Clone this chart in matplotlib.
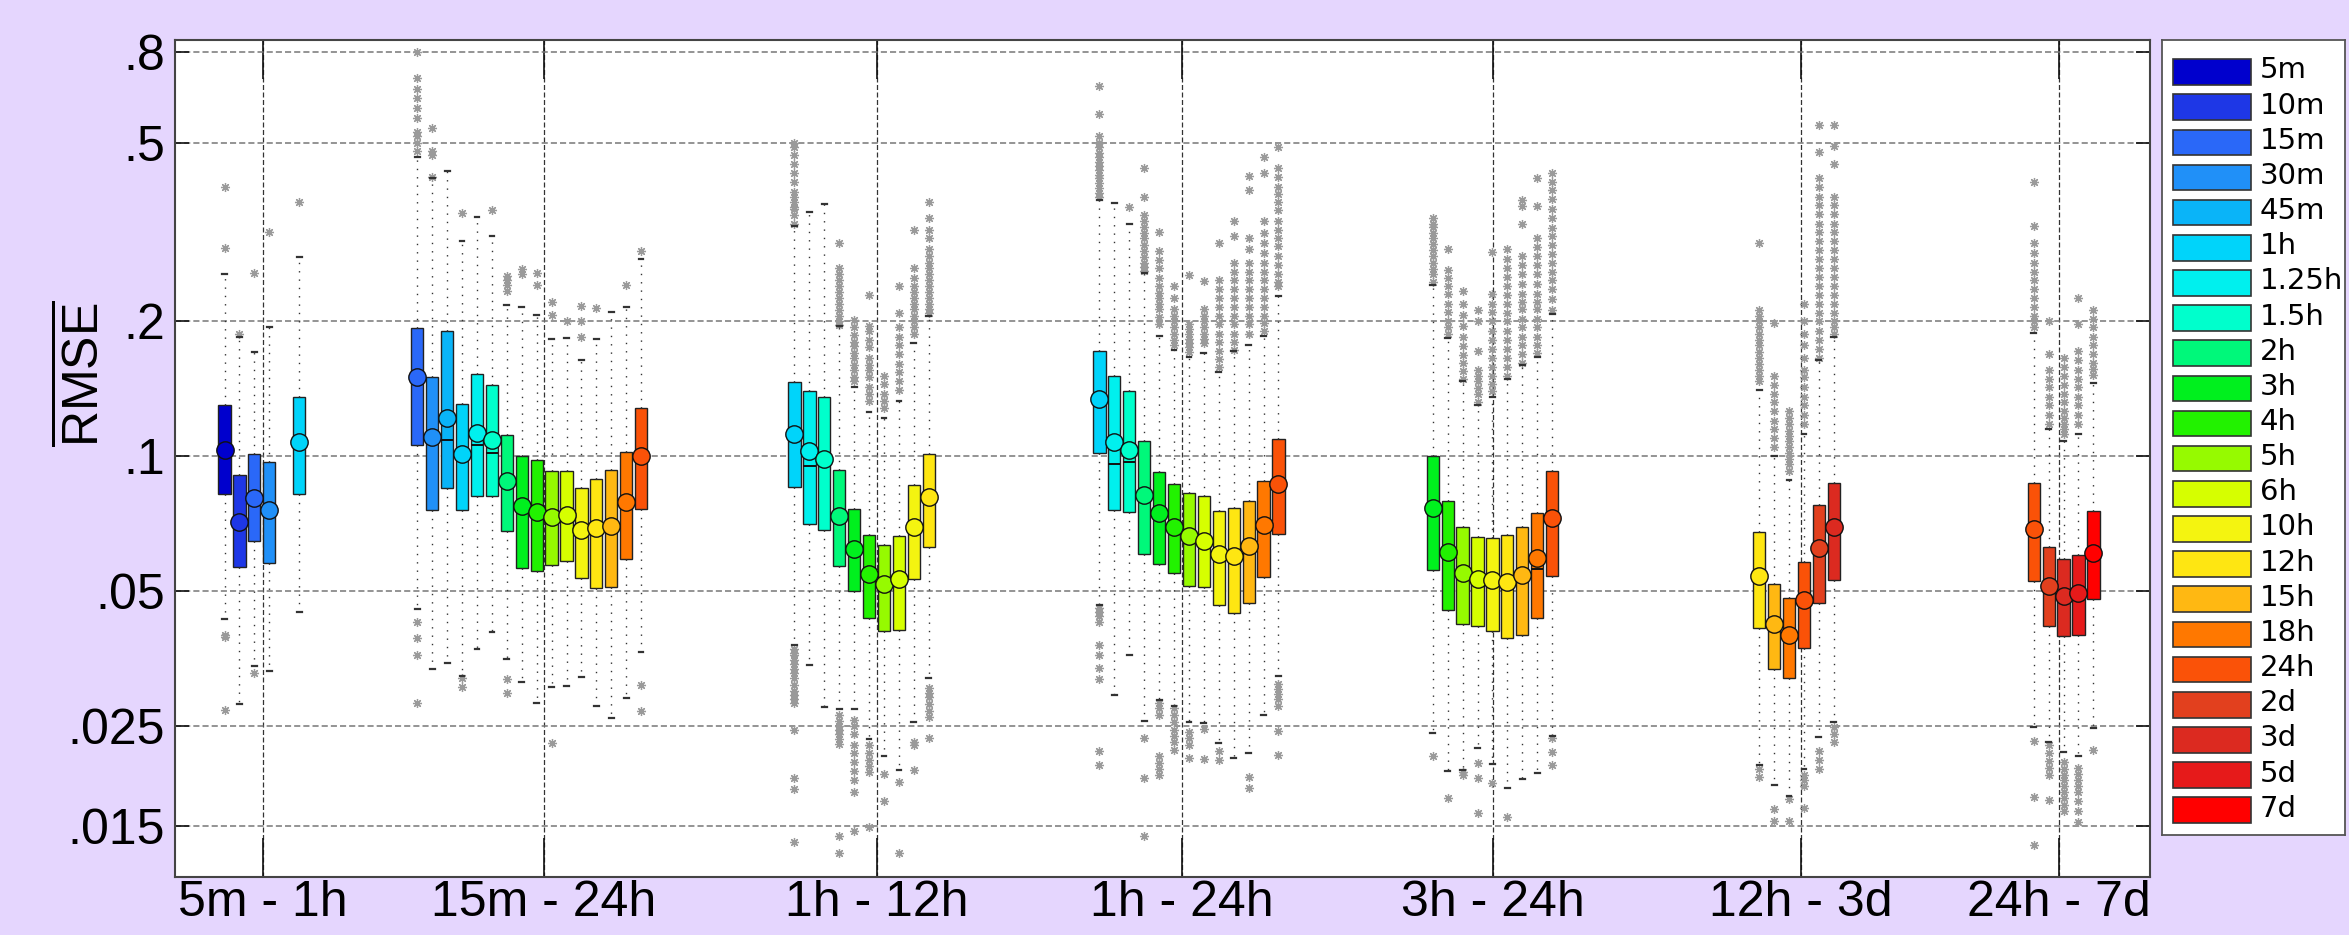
import matplotlib
matplotlib.use('Agg')
import matplotlib.pyplot as plt
from matplotlib.patches import Rectangle
from matplotlib.ticker import FixedLocator, FixedFormatter, NullLocator

# ---------------- data ----------------
HORIZONS = ['5m', '10m', '15m', '30m', '45m', '1h', '1.25h', '1.5h', '2h', '3h', '4h',
            '5h', '6h', '10h', '12h', '15h', '18h', '24h', '2d', '3d', '5d', '7d']
COLORS = ['#0000cd', '#1e37e6', '#2a68f8', '#2090f8', '#0ab4f8', '#00d4fa', '#00f0ee',
          '#00ffcc', '#00f87a', '#00f01e', '#22f200', '#96fa00', '#d6ff00', '#f4f410',
          '#fee612', '#ffb812', '#ff7800', '#fa5208', '#e2401e', '#dc2a20', '#e61a1a', '#ff0000']

GROUP_LABELS = ['5m - 1h', '15m - 24h', '1h - 12h', '1h - 24h', '3h - 24h', '12h - 3d', '24h - 7d']
GROUP_FIRST = ['5m', '15m', '1h', '1h', '3h', '12h', '24h']
GROUP_LAST = ['1h', '24h', '12h', '24h', '24h', '3d', '7d']

YTICKS = [0.8, 0.5, 0.2, 0.1, 0.05, 0.025, 0.015]
YTICK_LABELS = ['.8', '.5', '.2', '.1', '.05', '.025', '.015']

BOX_Q3 = [
    [0.1305, 0.091, 0.101, 0.097, None, 0.136],
    [0.193, 0.150, 0.190, 0.131, 0.153, 0.1443, 0.1116, 0.100, 0.098, 0.093, 0.093, 0.0848, 0.089, 0.0932, 0.1025, 0.128],
    [0.1466, 0.140, 0.136, 0.0932, 0.0764, 0.0667, 0.0634, 0.0665, 0.0863, 0.1012],
    [0.172, 0.151, 0.140, 0.108, 0.0924, 0.0868, 0.0827, 0.0814, 0.0754, 0.0766, 0.0797, 0.0882, 0.1096],
    [0.100, 0.0797, 0.0697, 0.0661, 0.0658, 0.0667, 0.0695, 0.0746, 0.0927],
    [0.0678, 0.052, 0.0483, 0.0581, 0.0779, 0.0874],
    [0.0874, 0.0628, 0.059, 0.0602, 0.0754],
]
BOX_Q1 = [
    [0.0824, 0.0566, 0.0646, 0.0578, None, 0.0824],
    [0.106, 0.0758, 0.0848, 0.0758, 0.0814, 0.0814, 0.068, 0.0564, 0.0555, 0.0573, 0.0583, 0.0535, 0.0508, 0.0511, 0.059, 0.0764],
    [0.0853, 0.0707, 0.0686, 0.0568, 0.0502, 0.0436, 0.0408, 0.041, 0.0532, 0.0628],
    [0.1018, 0.0761, 0.075, 0.0606, 0.0576, 0.0549, 0.0514, 0.0511, 0.0467, 0.0448, 0.0471, 0.0539, 0.0672],
    [0.0557, 0.0455, 0.0423, 0.0419, 0.0407, 0.0393, 0.040, 0.0435, 0.0541],
    [0.0415, 0.0335, 0.0321, 0.0374, 0.0472, 0.053],
    [0.0527, 0.0419, 0.0397, 0.040, 0.0481],
]
MEAN = [
    [0.1034, 0.0714, 0.0807, 0.0761, None, 0.1076],
    [0.150, 0.1106, 0.1217, 0.1012, 0.1127, 0.109, 0.0882, 0.0776, 0.075, 0.0734, 0.0741, 0.0684, 0.0693, 0.0701, 0.079, 0.100],
    [0.112, 0.1028, 0.0985, 0.0738, 0.0622, 0.0546, 0.0518, 0.0533, 0.0697, 0.0812],
    [0.134, 0.1076, 0.1034, 0.082, 0.0746, 0.0695, 0.0663, 0.0649, 0.0607, 0.060, 0.063, 0.0703, 0.0869],
    [0.0767, 0.0613, 0.0549, 0.0532, 0.0529, 0.0524, 0.0544, 0.0592, 0.073],
    [0.0541, 0.0423, 0.0399, 0.0477, 0.0626, 0.0697],
    [0.0688, 0.0515, 0.0489, 0.0496, 0.0609],
]
MEDIAN = [
    [0.103, 0.071, 0.080, 0.076, None, 0.107],
    [0.150, 0.110, 0.109, 0.101, 0.106, 0.102, 0.088, 0.077, 0.075, 0.073, 0.074, 0.068, 0.069, 0.070, 0.079, 0.100],
    [0.112, 0.095, 0.098, 0.074, 0.062, 0.054, 0.052, 0.053, 0.070, 0.081],
    [0.134, 0.096, 0.097, 0.082, 0.075, 0.069, 0.066, 0.065, 0.061, 0.060, 0.063, 0.070, 0.087],
    [0.077, 0.061, 0.055, 0.053, 0.053, 0.052, 0.054, 0.056, 0.073],
    [0.054, 0.042, 0.040, 0.048, 0.063, 0.070],
    [0.069, 0.0515, 0.049, 0.0496, 0.061],
]
WHISK_HI = [
    [0.255, 0.185, 0.171, 0.194, None, 0.279],
    [0.465, 0.417, 0.433, 0.303, 0.342, 0.31, 0.218, 0.216, 0.207, 0.183, 0.184, 0.164, 0.183, 0.21, 0.216, 0.276],
    [0.326, 0.351, 0.365, 0.195, 0.1427, 0.1254, 0.1216, 0.1329, 0.179, 0.206],
    [0.374, 0.367, 0.33, 0.256, 0.186, 0.173, 0.167, 0.17, 0.154, 0.172, 0.177, 0.186, 0.228],
    [0.241, 0.184, 0.147, 0.1305, 0.136, 0.1485, 0.160, 0.167, 0.208],
    [0.141, 0.1003, 0.0888, 0.112, 0.164, 0.185],
    [0.189, 0.115, 0.108, 0.112, 0.146],
]
WHISK_LO = [
    [0.0433, 0.028, 0.0341, 0.0332, None, 0.045],
    [0.0457, 0.0335, 0.0346, 0.0323, 0.0371, 0.0405, 0.0354, 0.0313, 0.0282, 0.0306, 0.0307, 0.0322, 0.0277, 0.0261, 0.0289, 0.0366],
    [0.0379, 0.0343, 0.0276, 0.0273, 0.0273, 0.0234, 0.0215, 0.0200, 0.0256, 0.0320],
    [0.0467, 0.0294, 0.036, 0.0257, 0.0286, 0.0278, 0.0255, 0.0254, 0.0229, 0.0212, 0.0218, 0.0265, 0.0323],
    [0.0241, 0.0199, 0.0200, 0.0224, 0.0206, 0.0182, 0.0191, 0.0197, 0.0238],
    [0.0205, 0.0185, 0.0175, 0.0201, 0.0236, 0.0255],
    [0.0249, 0.0231, 0.0219, 0.0215, 0.0248],
]
FLIERS_HIGH = [
    [[0.40, 0.292], [0.188], [0.256], [0.317], [], [0.37]],
    [[0.80, 0.70, 0.66, 0.63, 0.60, 0.57, 0.53, 0.52, 0.50, 0.48], [0.54, 0.48, 0.47, 0.42], [], [0.35], [],
     [0.355], [0.253, 0.248, 0.241, 0.234], [0.262, 0.255], [0.257, 0.241], [0.221, 0.207], [0.2],
     [0.217, 0.2, 0.185], [0.214], [], [0.241], [0.287]],
    [[0.5, 0.49, 0.47, 0.45, 0.43, 0.41, 0.39, 0.38, 0.37, 0.36, 0.357, 0.345, 0.33], [], [],
     [0.3, 0.263, 0.255, 0.247, 0.24, 0.233, 0.226, 0.219, 0.212, 0.206, 0.2, 0.196],
     [0.202, 0.194, 0.187, 0.18, 0.176, 0.17, 0.166, 0.16, 0.156, 0.15, 0.147],
     [0.229, 0.195, 0.19, 0.182, 0.175, 0.166, 0.16, 0.156, 0.15, 0.1427, 0.138, 0.133],
     [0.1515, 0.1448, 0.138, 0.133, 0.128],
     [0.24, 0.209, 0.194, 0.185, 0.177, 0.169, 0.161, 0.154, 0.147, 0.1405],
     [0.32, 0.263, 0.25, 0.24, 0.233, 0.226, 0.219, 0.213, 0.206, 0.2, 0.194, 0.188],
     [0.37, 0.34, 0.32, 0.307, 0.29, 0.28, 0.27, 0.263, 0.255, 0.247, 0.24, 0.233, 0.226, 0.219, 0.213, 0.209]],
    [[0.67, 0.58, 0.52, 0.5, 0.49, 0.476, 0.465, 0.455, 0.445, 0.435, 0.425, 0.417, 0.407, 0.397, 0.388, 0.38],
     [], [0.36],
     [0.44, 0.38, 0.345, 0.335, 0.325, 0.315, 0.307, 0.297, 0.288, 0.279, 0.27, 0.264, 0.259],
     [0.316, 0.288, 0.275, 0.263, 0.25, 0.24, 0.232, 0.226, 0.219, 0.213, 0.205, 0.197],
     [0.24, 0.226, 0.213, 0.206, 0.2, 0.194, 0.188, 0.182, 0.177],
     [0.254, 0.197, 0.192, 0.188, 0.183, 0.179, 0.175, 0.171],
     [0.246, 0.213, 0.206, 0.2, 0.194, 0.188, 0.183, 0.179],
     [0.30, 0.247, 0.236, 0.226, 0.216, 0.206, 0.197, 0.188, 0.18, 0.172, 0.165, 0.158],
     [0.336, 0.31, 0.27, 0.258, 0.247, 0.236, 0.226, 0.216, 0.206, 0.197, 0.188, 0.18, 0.173],
     [0.423, 0.393, 0.307, 0.29, 0.27, 0.258, 0.247, 0.236, 0.226, 0.216, 0.206, 0.197, 0.188],
     [0.465, 0.43, 0.336, 0.315, 0.3, 0.285, 0.27, 0.258, 0.247, 0.236, 0.226, 0.216, 0.206, 0.198, 0.19],
     [0.49, 0.44, 0.42, 0.40, 0.385, 0.37, 0.355, 0.336, 0.32, 0.307, 0.295, 0.28, 0.268, 0.255, 0.245, 0.24]],
    [[0.34, 0.33, 0.325, 0.315, 0.307, 0.298, 0.289, 0.28, 0.27, 0.262, 0.255, 0.245],
     [0.29, 0.26, 0.25, 0.24, 0.23, 0.219, 0.21, 0.2, 0.194, 0.188],
     [0.234, 0.219, 0.207, 0.195, 0.185, 0.176, 0.168, 0.162, 0.155, 0.149],
     [0.2125, 0.2, 0.172, 0.156, 0.151, 0.147, 0.142, 0.138, 0.132],
     [0.286, 0.23, 0.219, 0.21, 0.2, 0.19, 0.182, 0.174, 0.166, 0.158, 0.151, 0.145, 0.14],
     [0.29, 0.276, 0.263, 0.251, 0.24, 0.229, 0.219, 0.209, 0.2, 0.19, 0.182, 0.174, 0.166, 0.158, 0.151],
     [0.374, 0.362, 0.33, 0.28, 0.267, 0.255, 0.242, 0.23, 0.221, 0.213, 0.203, 0.194, 0.185, 0.177, 0.169, 0.162],
     [0.417, 0.362, 0.307, 0.293, 0.28, 0.267, 0.255, 0.242, 0.23, 0.221, 0.213, 0.203, 0.194, 0.185, 0.177, 0.17],
     [0.43, 0.41, 0.393, 0.375, 0.357, 0.34, 0.324, 0.31, 0.296, 0.283, 0.27, 0.258, 0.247, 0.236, 0.225, 0.212]],
    [[0.3, 0.212, 0.206, 0.2, 0.194, 0.188, 0.182, 0.177, 0.171, 0.166, 0.161, 0.156, 0.151, 0.147],
     [0.198, 0.151, 0.144, 0.138, 0.132, 0.126, 0.12, 0.115, 0.11, 0.105],
     [0.126, 0.122, 0.118, 0.114, 0.111, 0.108, 0.105, 0.102, 0.0988, 0.096, 0.093],
     [0.219, 0.2, 0.188, 0.177, 0.166, 0.156, 0.15, 0.143, 0.136, 0.13, 0.124, 0.118],
     [0.548, 0.478, 0.417, 0.40, 0.38, 0.363, 0.347, 0.33, 0.316, 0.302, 0.289, 0.276, 0.263, 0.251, 0.24,
      0.229, 0.219, 0.209, 0.2, 0.19, 0.182, 0.174, 0.166],
     [0.548, 0.493, 0.45, 0.38, 0.363, 0.347, 0.33, 0.316, 0.302, 0.289, 0.276, 0.263, 0.251, 0.24, 0.229,
      0.219, 0.209, 0.2, 0.194, 0.188]],
    [[0.41, 0.326, 0.3, 0.285, 0.27, 0.258, 0.247, 0.236, 0.226, 0.216, 0.206, 0.2, 0.194],
     [0.2, 0.169, 0.156, 0.149, 0.1427, 0.136, 0.13, 0.124, 0.118],
     [0.166, 0.158, 0.151, 0.144, 0.138, 0.132, 0.126, 0.122, 0.118, 0.115, 0.112],
     [0.226, 0.197, 0.172, 0.164, 0.156, 0.149, 0.1427, 0.136, 0.13, 0.124, 0.118],
     [0.212, 0.203, 0.194, 0.185, 0.177, 0.169, 0.162, 0.157, 0.152]],
]
FLIERS_LOW = [
    [[0.040, 0.0395, 0.0272], [], [0.0328], [], [], []],
    [[0.0426, 0.0394, 0.036, 0.0282], [], [], [0.032, 0.0306], [], [], [0.0318, 0.0297], [], [],
     [0.0229], [], [], [], [], [], [0.0309, 0.0271]],
    [[0.0371, 0.0365, 0.036, 0.0352, 0.0344, 0.0336, 0.0328, 0.032, 0.0309, 0.03, 0.0294, 0.0287, 0.0281,
      0.0245, 0.0192, 0.0181, 0.0138], [], [],
     [0.0265, 0.0257, 0.025, 0.0245, 0.024, 0.0234, 0.0228, 0.0142, 0.013],
     [0.0258, 0.025, 0.024, 0.0227, 0.0218, 0.0208, 0.0199, 0.019, 0.0178, 0.0146],
     [0.0227, 0.0218, 0.021, 0.0204, 0.0198, 0.0149],
     [0.0196, 0.017], [0.0188, 0.013], [0.023, 0.0227, 0.02],
     [0.0305, 0.0297, 0.029, 0.028, 0.027, 0.0262, 0.0235]],
    [[0.046, 0.045, 0.044, 0.0426, 0.038, 0.036, 0.0338, 0.0318, 0.022, 0.0205], [], [],
     [0.0235, 0.0192, 0.0142],
     [0.0282, 0.0274, 0.0265, 0.0214, 0.0207, 0.0201, 0.0195],
     [0.0274, 0.0265, 0.0255, 0.0245, 0.0238, 0.023, 0.0221],
     [0.0243, 0.0235, 0.0227, 0.0212], [0.0246, 0.0211], [0.022, 0.021], [], [0.0193, 0.0182], [],
     [0.031, 0.0302, 0.0295, 0.0287, 0.0278, 0.0244, 0.0216]],
    [[0.0215], [0.0173], [0.0198, 0.0195], [0.0207, 0.0192, 0.016], [0.0187], [0.0157], [], [],
     [0.0235, 0.0219, 0.0205]],
    [[0.0201, 0.0193], [0.0163, 0.0154], [0.0172, 0.0154], [0.0195, 0.019, 0.0184, 0.0164],
     [0.022, 0.021, 0.0201], [0.0249, 0.024, 0.0231]],
    [[0.0232, 0.0174, 0.0136], [0.0227, 0.0218, 0.0209, 0.0202, 0.0195, 0.0171],
     [0.0208, 0.0201, 0.0195, 0.019, 0.0184, 0.0178, 0.0173, 0.0167, 0.0162],
     [0.0202, 0.0196, 0.019, 0.0184, 0.0178, 0.017, 0.0162, 0.0153], [0.0221]],
]

# ---------------- layout / style ----------------
W, H = 2349, 935
BG = '#e5d6fe'
SLOT = 14.92                       # pixels per box slot
GROUP_START = [3.32, 16.24, 41.52, 61.96, 84.30, 106.18, 124.58]   # slot units
GROUP_TICK = [5.885, 24.725, 47.02, 67.47, 88.34, 108.98, 126.28]

plt.rcParams['font.family'] = ['Liberation Sans', 'DejaVu Sans']
plt.rcParams['mathtext.fontset'] = 'custom'
plt.rcParams['mathtext.rm'] = 'Liberation Sans'
plt.rcParams['mathtext.it'] = 'Liberation Sans:italic'
plt.rcParams['mathtext.bf'] = 'Liberation Sans:bold'

fig = plt.figure(figsize=(W / 100, H / 100), dpi=100, facecolor=BG)
ax = fig.add_axes([175 / W, (H - 877) / H, 1975 / W, 837 / H])
ax.set_facecolor('white')
ax.set_axisbelow(True)

stats, positions, box_colors = [], [], []
for g in range(len(GROUP_LABELS)):
    i0 = HORIZONS.index(GROUP_FIRST[g])
    i1 = HORIZONS.index(GROUP_LAST[g])
    for k, hi in enumerate(range(i0, i1 + 1)):
        if BOX_Q1[g][k] is None:
            continue
        stats.append(dict(med=MEDIAN[g][k], q1=BOX_Q1[g][k], q3=BOX_Q3[g][k],
                          whislo=WHISK_LO[g][k], whishi=WHISK_HI[g][k], mean=MEAN[g][k],
                          fliers=FLIERS_HIGH[g][k] + FLIERS_LOW[g][k], label=HORIZONS[hi]))
        positions.append(GROUP_START[g] + k)
        box_colors.append(COLORS[hi])

art = ax.bxp(stats, positions=positions, widths=0.82, capwidths=0.32, patch_artist=True,
             showmeans=True, meanline=False, showfliers=True, manage_ticks=False,
             boxprops=dict(edgecolor='#222222', linewidth=1.0),
             whiskerprops=dict(color='#333333', linestyle=(0, (1, 5)), linewidth=1.0),
             capprops=dict(color='#333333', linewidth=1.6),
             medianprops=dict(color='#111111', linewidth=1.4),
             meanprops=dict(marker='o', markersize=12.5, markeredgecolor='#111111',
                            markeredgewidth=1.0, linestyle='none'),
             flierprops=dict(marker=(8, 2, 0), markersize=6.5, markeredgecolor='#9a9a9a',
                             markerfacecolor='none', markeredgewidth=0.9, linestyle='none'))
for patch, c in zip(art['boxes'], box_colors):
    patch.set_facecolor(c)
for m, c in zip(art['means'], box_colors):
    m.set_markerfacecolor(c)
    m.set_zorder(4)
for f in art['fliers']:
    f.set_zorder(1.8)

ax.set_xlim(0, 1975 / SLOT)
ax.set_yscale('log')
ax.set_ylim(0.01152, 0.8495)
ax.yaxis.set_major_locator(FixedLocator(YTICKS))
ax.yaxis.set_major_formatter(FixedFormatter(YTICK_LABELS))
ax.yaxis.set_minor_locator(NullLocator())
ax.set_xticks(GROUP_TICK)
ax.set_xticklabels(GROUP_LABELS)

ax.yaxis.grid(True, linestyle=(0, (4, 2)), color='#777777', linewidth=1.1)
ax.xaxis.grid(True, linestyle=(0, (4, 2)), color='#333333', linewidth=0.9)

ax.tick_params(axis='x', direction='in', length=28, width=1.2, top=True, bottom=True,
               pad=2, labelsize=36, color='#111111')
ax.tick_params(axis='y', direction='in', length=10, width=1.2, left=True, right=True,
               pad=7, labelsize=36, color='#111111')
for s in ax.spines.values():
    s.set_color('#444444')
    s.set_linewidth(1.5)

ax.set_ylabel(r'$\overline{\mathrm{RMSE}}$', fontsize=36)
ax.yaxis.set_label_coords(-0.034, 0.601)

# ---------------- legend ----------------
lax = fig.add_axes([2162 / W, (H - 835) / H, 183 / W, 795 / H])
lax.set_xlim(0, 183)
lax.set_ylim(795, 0)
lax.set_facecolor('white')
lax.set_xticks([])
lax.set_yticks([])
for s in lax.spines.values():
    s.set_color('#555555')
    s.set_linewidth(1.3)
for i, (lab, c) in enumerate(zip(HORIZONS, COLORS)):
    yc = 32 + 35.15 * i
    lax.add_patch(Rectangle((11.3, yc - 12.8), 77.4, 25.6, facecolor=c,
                            edgecolor='#333333', linewidth=1.2))
    lax.text(98, yc + 6.5, lab, ha='left', va='baseline', fontsize=21,
             family=['DejaVu Sans'])

fig.savefig('out.png', dpi=100, facecolor=BG)
